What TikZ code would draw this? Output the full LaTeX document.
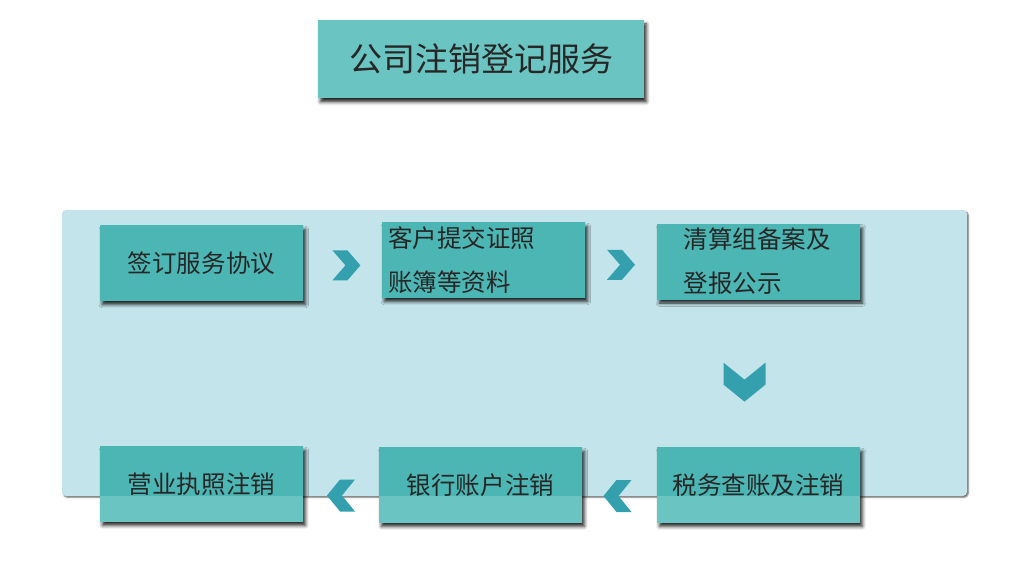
\documentclass[tikz,border=0pt]{standalone}
\usepackage{fontspec}
\newfontfamily\cjk{Noto Sans CJK SC}
\usetikzlibrary{calc,positioning,shadows.blur}

\definecolor{panelblue}{RGB}{196,228,235}
\definecolor{boxdark}{RGB}{76,182,180}
\definecolor{boxlight}{RGB}{106,196,193}
\definecolor{arrowteal}{RGB}{52,160,174}

\begin{document}
\begin{tikzpicture}
  [x=0.75pt, y=-0.75pt,
   panel/.style={fill=panelblue, rounded corners=3pt, inner sep=0pt,
     minimum width=905*0.75pt, minimum height=286*0.75pt,
     blur shadow={shadow xshift=1pt, shadow yshift=-1pt,
       shadow blur radius=1pt, shadow opacity=60}},
   box/.style={fill=boxlight, inner sep=0pt,
     minimum width=203*0.75pt, minimum height=75*0.75pt,
     font=\cjk\fontsize{18.4}{33}\selectfont, text=black!85,
     path picture={\fill[boxdark] (panel.north west) rectangle (panel.south east);},
     blur shadow={shadow xshift=1.8pt, shadow yshift=-3pt,
       shadow blur radius=2.5pt, shadow opacity=85}},
   chevron/.style={fill=arrowteal}]

  \useasboundingbox (0,0) rectangle (1013,563);

  % background panel
  \node [panel] (panel) at (514.5,353) {};

  % title
  \node [box, minimum width=326*0.75pt, minimum height=78*0.75pt,
         font=\cjk\fontsize{24.75}{30}\selectfont] (title) at (481,59) {公司注销登记服务};

  % steps
  \node [box] (sign) at (201.5,263) {签订服务协议};
  \node [box, align=left, text width=191*0.75pt] (submit) at (483.5,260) {客户提交证照\\账簿等资料};
  \node [box, align=left, text width=150*0.75pt] (clear) at (758.5,261.5) {清算组备案及\\登报公示};
  \node [box] (tax) at (758.5,485) {税务查账及注销};
  \node [box] (bank) at (480.5,485) {银行账户注销};
  \node [box] (license) at (201.5,484) {营业执照注销};

  % chevrons between the steps
  \coordinate (c-sign-submit) at ($(sign.east)!0.55!(submit.west) + (0,4)$);
  \coordinate (c-submit-clear) at ($(submit.east)!0.5!(clear.west) + (0,4)$);
  \coordinate (c-clear-tax) at ($(clear.south)!0.56!(tax.north) + (-14,0)$);
  \coordinate (c-tax-bank) at ($(tax.west)!0.5!(bank.east) + (-2,11)$);
  \coordinate (c-bank-license) at ($(bank.west)!0.5!(license.east) + (0,11)$);

  \fill [chevron] ($(c-sign-submit)+(-14,-15)$) -- ++(15,0) -- ++(13,15) -- ++(-13,15) -- ++(-15,0) -- ++(13,-15) -- cycle;
  \fill [chevron] ($(c-submit-clear)+(-14,-15)$) -- ++(15,0) -- ++(13,15) -- ++(-13,15) -- ++(-15,0) -- ++(13,-15) -- cycle;
  \fill [chevron] ($(c-clear-tax)+(-21,-19.5)$) -- ++(21,17) -- ++(21,-17) -- ++(0,22) -- ++(-21,17) -- ++(-21,-17) -- cycle;
  \fill [chevron] ($(c-tax-bank)+(14,-16)$) -- ++(-15,0) -- ++(-13,16) -- ++(13,16) -- ++(15,0) -- ++(-13,-16) -- cycle;
  \fill [chevron] ($(c-bank-license)+(14,-16)$) -- ++(-15,0) -- ++(-13,16) -- ++(13,16) -- ++(15,0) -- ++(-13,-16) -- cycle;
\end{tikzpicture}
\end{document}
